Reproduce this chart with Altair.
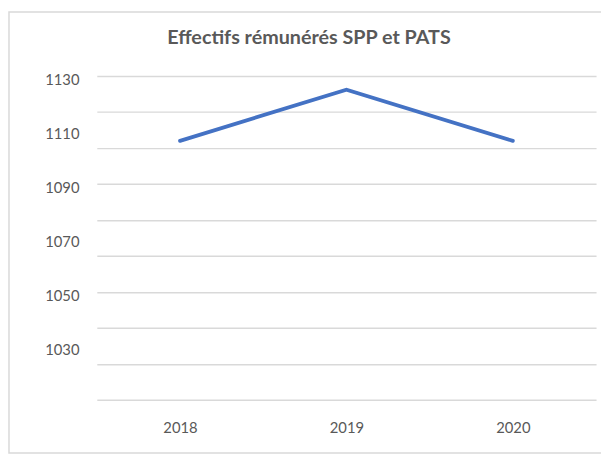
import altair as alt
import pandas as pd

years = ["2018", "2019", "2020"]
values = [1106, 1125, 1106]
label_values = [1030, 1050, 1070, 1090, 1110, 1130]
y_min, y_max = 1010, 1130
grid_values = [round(y_min + i * (y_max - y_min) / 9, 4) for i in range(10)]

df = pd.DataFrame({"year": years, "value": values})

grey = "#595959"
font = "Lato"

all_ticks = sorted(set(grid_values + label_values))
grid_list = ",".join(str(v) for v in grid_values)
label_list = ",".join(str(v) for v in label_values)

line = alt.Chart(df).mark_line(color="#4472C4", strokeWidth=3.8, strokeCap="round").encode(
    x=alt.X("year:N", title=None,
            axis=alt.Axis(labelAngle=0, domain=False, ticks=False, tickSize=0,
                          labelPadding=21, labelFontSize=15, labelColor=grey, labelFont=font)),
    y=alt.Y("value:Q", title=None,
            scale=alt.Scale(domain=[y_min, y_max], nice=False, zero=False),
            axis=alt.Axis(values=all_ticks, format="d", domain=False, ticks=False, tickSize=0,
                          labelOverlap=False, labelPadding=18, labelOffset=4,
                          labelFontSize=15, labelColor=grey, labelFont=font,
                          grid=True, gridColor="#d9d9d9", gridWidth=1.5,
                          gridOpacity=alt.condition(f"indexof([{grid_list}], datum.value) >= 0", alt.value(1), alt.value(0)),
                          labelOpacity=alt.condition(f"indexof([{label_list}], datum.value) >= 0", alt.value(1), alt.value(0)))),
)

border = alt.Chart(pd.DataFrame({"k": [0]})).mark_rect(fill=None, stroke="#d9d9d9", strokeWidth=1.5).encode(
    x=alt.value(-89), x2=alt.value(530), y=alt.value(-65), y2=alt.value(382)
)

chart = alt.layer(border, line).properties(
    width=506, height=328,
    title=alt.Title("Effectifs rémunérés SPP et PATS", font=font, fontSize=20, fontWeight="bold",
                    color=grey, anchor="middle", baseline="middle", offset=-47, dx=-38),
    autosize=alt.AutoSizeParams(type="none"),
    padding={"left": 90, "top": 66, "right": 5, "bottom": 55},
).configure_view(stroke=None)

chart.save("out.html", embed_options={"renderer": "svg", "actions": False})
